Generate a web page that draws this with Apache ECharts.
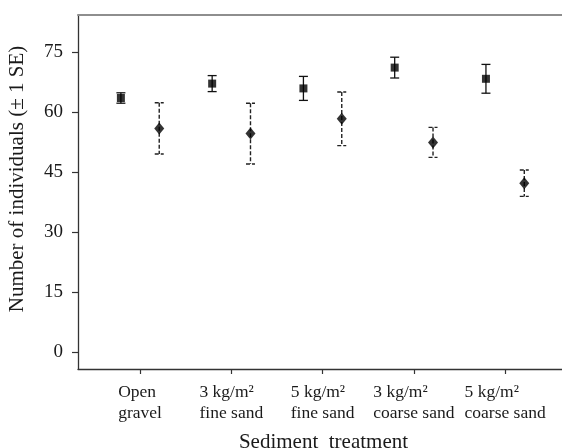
<!DOCTYPE html>
<html>
<head>
<meta charset="utf-8">
<script src="https://cdn.jsdelivr.net/npm/echarts@6/dist/echarts.min.js"></script>
<style>
  html, body { margin: 0; padding: 0; background: #fff; }
  #chart { width: 562px; height: 448px; }
</style>
</head>
<body>
<div id="chart"></div>
<script>
// Treatment labels (two lines each) and y tick values
const categories = [
  ['Open', 'gravel'],
  ['3 kg/m²', 'fine sand'],
  ['5 kg/m²', 'fine sand'],
  ['3 kg/m²', 'coarse sand'],
  ['5 kg/m²', 'coarse sand']
];
const yTicks = [0, 15, 30, 45, 60, 75];

// Mean counts and standard errors per treatment
const squareMean = [63.5, 67.1, 65.9, 71.1, 68.3];
const squareSE = [1.3, 2.0, 3.0, 2.6, 3.6];
const diamondMean = [55.9, 54.6, 58.3, 52.4, 42.2];
const diamondSE = [6.4, 7.6, 6.7, 3.75, 3.3];

const FONT = '"Liberation Serif", "DejaVu Serif", serif';
const OFFSET = 0.21; // horizontal dodge of the two series around each tick
const catX = categories.map((c, i) => i + 1);

function points(means, shift) {
  return means.map((m, i) => [catX[i] + shift, m]);
}
function bars(means, ses, shift) {
  return means.map((m, i) => [catX[i] + shift, m - ses[i], m + ses[i]]);
}

function errorBar(dashed) {
  return function (params, api) {
    const x = api.value(0);
    const top = api.coord([x, api.value(2)]);
    const bot = api.coord([x, api.value(1)]);
    const half = 4.5;
    const style = {
      stroke: dashed ? '#222' : '#111',
      lineWidth: dashed ? 1.4 : 1.3,
      lineDash: dashed ? [4, 2] : null,
      fill: null
    };
    return {
      type: 'group',
      children: [
        { type: 'line', shape: { x1: top[0], y1: top[1], x2: bot[0], y2: bot[1] }, style: style },
        { type: 'line', shape: { x1: top[0] - half, y1: top[1], x2: top[0] + half, y2: top[1] }, style: style },
        { type: 'line', shape: { x1: bot[0] - half, y1: bot[1], x2: bot[0] + half, y2: bot[1] }, style: style }
      ]
    };
  };
}

const chart = echarts.init(document.getElementById('chart'), null, { renderer: 'canvas' });

chart.setOption({
  backgroundColor: '#fff',
  animation: false,
  grid: { left: 78, top: 15, width: 491, height: 354, containLabel: false, outerBoundsMode: 'none' },
  xAxis: [
    {
      type: 'value',
      position: 'bottom',
      min: 0.32,
      max: 5.7,
      name: 'Sediment  treatment',
      nameLocation: 'middle',
      nameGap: 63,
      nameTextStyle: { fontFamily: FONT, fontSize: 21, color: '#1a1a1a' },
      axisLine: { show: true, onZero: false, lineStyle: { color: '#333', width: 1.3 } },
      axisTick: { show: true, inside: false, length: 5, customValues: catX, lineStyle: { color: '#333', width: 1.2 } },
      axisLabel: {
        customValues: catX,
        margin: 13,
        formatter: function (v) {
          const c = categories[Math.round(v) - 1];
          return c ? '{t|' + c[0] + '}\n{t|' + c[1] + '}' : '';
        },
        rich: {
          t: { align: 'left', fontFamily: FONT, fontSize: 17.5, lineHeight: 21, color: '#1a1a1a' }
        }
      },
      splitLine: { show: false }
    },
    {
      type: 'value',
      position: 'top',
      min: 0.32,
      max: 5.7,
      axisLine: { show: true, onZero: false, lineStyle: { color: '#8e8e8e', width: 2 } },
      axisTick: { show: false },
      axisLabel: { show: false },
      splitLine: { show: false }
    }
  ],
  yAxis: {
    type: 'value',
    min: -4.25,
    max: 84.25,
    name: 'Number of individuals (± 1 SE)',
    nameLocation: 'middle',
    nameGap: 50,
    nameRotate: 90,
    nameTextStyle: { fontFamily: FONT, fontSize: 21, color: '#1a1a1a', padding: [0, 0, 0, 26] },
    axisLine: { show: true, onZero: false, lineStyle: { color: '#333', width: 1.3 } },
    axisTick: { show: true, inside: false, length: 6, customValues: yTicks, lineStyle: { color: '#333', width: 1.2 } },
    axisLabel: {
      customValues: yTicks,
      margin: 15,
      fontFamily: FONT,
      fontSize: 19,
      color: '#1a1a1a'
    },
    splitLine: { show: false }
  },
  series: [
    {
      type: 'custom',
      name: 'square SE',
      renderItem: errorBar(false),
      encode: { x: 0, y: [1, 2] },
      data: bars(squareMean, squareSE, -OFFSET),
      z: 1,
      silent: true
    },
    {
      type: 'custom',
      name: 'diamond SE',
      renderItem: errorBar(true),
      encode: { x: 0, y: [1, 2] },
      data: bars(diamondMean, diamondSE, OFFSET),
      z: 1,
      silent: true
    },
    {
      type: 'scatter',
      name: 'square',
      symbol: 'rect',
      symbolSize: 8,
      itemStyle: { color: '#000' },
      data: points(squareMean, -OFFSET),
      z: 3
    },
    {
      type: 'scatter',
      name: 'diamond',
      symbol: 'diamond',
      symbolSize: [10, 12],
      itemStyle: { color: '#000' },
      data: points(diamondMean, OFFSET),
      z: 3
    }
  ]
});
</script>
</body>
</html>
